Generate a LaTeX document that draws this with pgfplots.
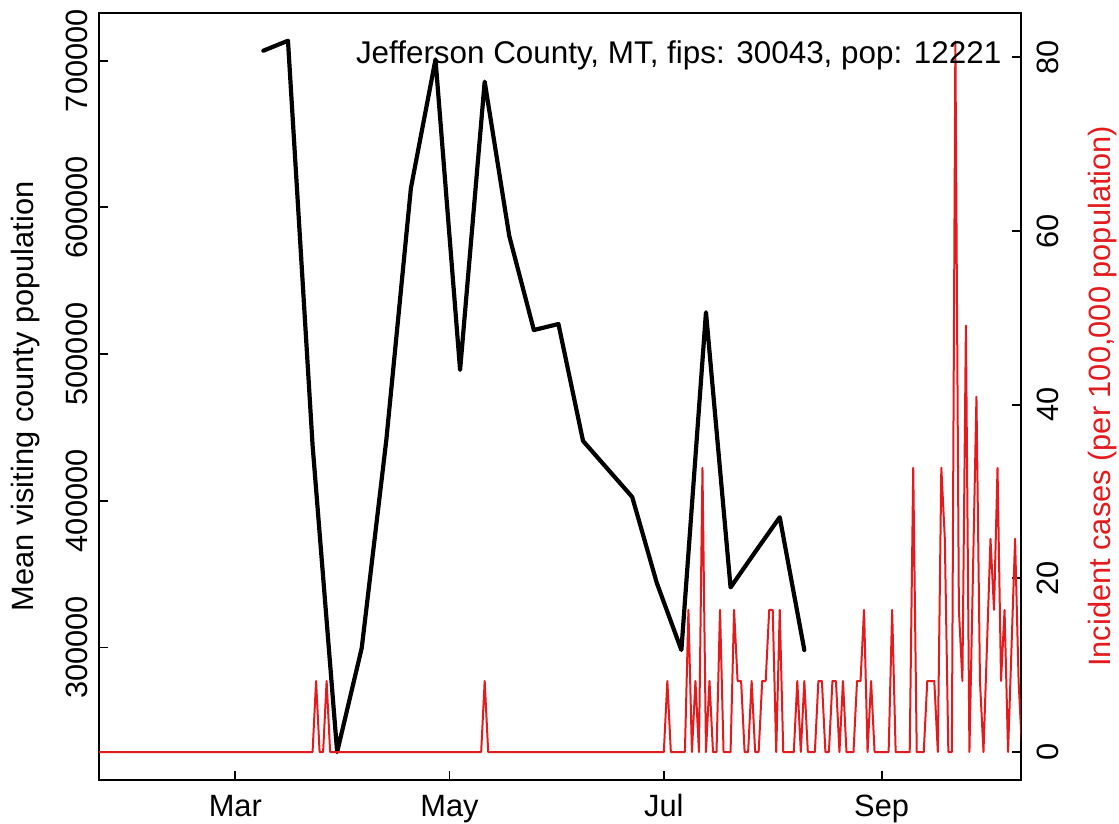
\documentclass[border=0pt]{standalone}
\usepackage{fontspec}
\setmainfont{Liberation Sans}
\usepackage{pgfplots}
\usepackage{pgfplotstable}
\pgfplotsset{compat=1.18}
\definecolor{rred}{RGB}{228,26,28}

% weekly mean visiting population (day of year 2020)
\pgfplotstableread{
day visit
69  706800
76  713600
83  438000
90  228800
97  299700
104 441500
111 613200
118 700900
125 489200
132 685700
139 580500
146 516400
153 520500
160 440800
167 421700
174 402600
181 344000
188 298300
195 528500
202 341000
209 365100
216 388800
223 298300
}\visits

% daily incident cases per 100,000 (pop 12221)
\pgfplotstableread{
day cases
22 0
30 0
40 0
50 0
60 0
70 0
80 0
83 0
84 8.18
85 0
86 0
87 8.18
88 0
100 0
110 0
120 0
131 0
132 8.18
133 0
140 0
150 0
160 0
170 0
183 0
184 8.18
185 0
186 0
187 0
188 0
189 0
190 16.37
191 0
192 8.18
193 0
194 32.73
195 0
196 8.18
197 0
198 0
199 16.37
200 0
201 0
202 0
203 16.37
204 8.18
205 8.18
206 0
207 0
208 8.18
209 0
210 0
211 8.18
212 8.18
213 16.37
214 16.37
215 0
216 16.37
217 0
218 0
219 0
220 0
221 8.18
222 0
223 8.18
224 0
225 0
226 0
227 8.18
228 8.18
229 0
230 0
231 8.18
232 8.18
233 0
234 8.18
235 0
236 0
237 0
238 8.18
239 8.18
240 16.37
241 0
242 8.18
243 0
244 0
245 0
246 0
247 0
248 16.37
249 0
250 0
251 0
252 0
253 0
254 32.73
255 0
256 0
257 0
258 8.18
259 8.18
260 8.18
261 0
262 32.73
263 24.55
264 0
265 0
266 81.83
267 16.37
268 8.18
269 49.10
270 0
272 40.91
273 8.18
274 0
276 24.55
277 16.37
278 32.73
279 8.18
280 16.37
281 0
283 24.55
284 8.18
285 0
}\cases

\pgfplotsset{
  rbase/.style={
    at={(0,0)}, anchor=south west,
    scale only axis, width=460.85pt, height=383.65pt,
    xmin=22.2, xmax=284.6,
    tick align=inside, major tick length=4.5pt,
    axis line style={line width=0.9pt},
    every tick/.style={black, line width=0.9pt},
    scaled ticks=false,
    tick label style={font=\fontsize{15.4pt}{18pt}\selectfont},
    label style={font=\fontsize{15.4pt}{18pt}\selectfont},
  },
}

\begin{document}
\begin{tikzpicture}
\useasboundingbox (-49.5pt,-22pt) rectangle (510pt,390pt);

\begin{axis}[
  rbase,
  ymin=209700, ymax=732700,
  tick pos=left,
  xtick={61,122,183,245},
  xticklabels={Mar,May,Jul,Sep},
  xticklabel style={anchor=base, inner sep=0pt, yshift=-18.35pt},
  ytick={300000,400000,500000,600000,700000},
  yticklabels={300000,400000,500000,600000,700000},
  % rotated frame: +y points left
  yticklabel style={rotate=90, anchor=base, inner sep=0pt, yshift=5.5pt},
  ylabel={Mean visiting county population},
  ylabel style={at={(rel axis cs:0,0.5)}, anchor=base, inner sep=0pt, yshift=32.85pt},
]
\addplot[black, line width=2.1pt, line join=round, line cap=round] table[x=day, y=visit] {\visits};
\end{axis}

\begin{axis}[
  rbase,
  ymin=-3.22, ymax=85.14,
  axis x line=none,
  axis y line*=right,
  tick align=inside,
  ytick={0,20,40,60,80},
  yticklabels={0,20,40,60,80},
  yticklabel style={rotate=90, anchor=base, inner sep=0pt, yshift=-18.65pt},
  ylabel={Incident cases (per 100,000 population)},
  ylabel style={at={(rel axis cs:1,0.5)}, anchor=base, inner sep=0pt, yshift=-44.65pt, text=rred},
]
\addplot[rred, line width=1pt, line join=round] table[x=day, y=cases] {\cases};
\node[anchor=base east, inner sep=0pt, font=\fontsize{15.7pt}{18pt}\selectfont]
  at (rel axis cs:1,1) [xshift=-9.5pt, yshift=-25.3pt] {Jefferson County, MT, fips: 30043, pop: 12221};
\end{axis}
\end{tikzpicture}
\end{document}
